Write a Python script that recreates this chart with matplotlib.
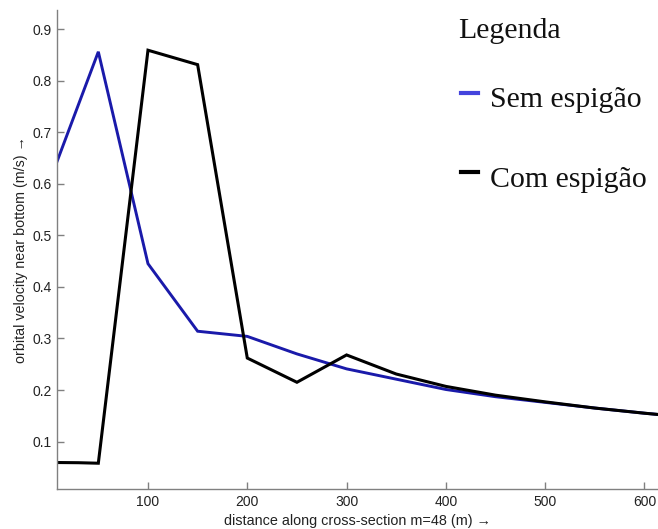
import matplotlib
matplotlib.use("Agg")
import matplotlib.pyplot as plt
from matplotlib.lines import Line2D

# Data (distance in m, orbital velocity in m/s)
x_sem = [0, 50, 100, 150, 200, 250, 300, 350, 400, 450, 500, 550, 600, 650]
v_sem = [0.600, 0.856, 0.445, 0.314, 0.304, 0.270, 0.241, 0.221, 0.201, 0.187, 0.176, 0.165, 0.155, 0.146]

x_com = [0, 30, 50, 100, 150, 200, 250, 300, 350, 400, 450, 500, 550, 600, 650]
v_com = [0.0595, 0.059, 0.058, 0.859, 0.831, 0.262, 0.215, 0.268, 0.231, 0.207, 0.190, 0.177, 0.165, 0.155, 0.146]

x_ticks = [100, 200, 300, 400, 500, 600]
y_ticks = [0.1, 0.2, 0.3, 0.4, 0.5, 0.6, 0.7, 0.8, 0.9]
y_tick_labels = ["0.1", "0.2", "0.3", "0.4", "0.5", "0.6", "0.7", "0.8", "0.9"]

legend_title = "Legenda"
series_names = ["Sem espigão", "Com espigão"]
blue = "#1a1aaa"
black = "#000000"

fig = plt.figure(figsize=(6.58, 5.29), dpi=100)
ax = fig.add_axes([0.0871, 0.0756, 0.9129, 0.9055])

ax.plot(x_sem, v_sem, color=blue, lw=2.1, solid_joinstyle="miter")
ax.plot(x_com, v_com, color=black, lw=2.2, solid_joinstyle="miter")

ax.set_xlim(8.7, 613.6)
ax.set_ylim(0.008, 0.937)
ax.set_xticks(x_ticks)
ax.set_yticks(y_ticks)
ax.set_yticklabels(y_tick_labels)

for s in ["top", "right"]:
    ax.spines[s].set_visible(False)
for s in ["left", "bottom"]:
    ax.spines[s].set_color("#808080")
    ax.spines[s].set_linewidth(1.0)

ax.tick_params(direction="in", length=5, width=1.0, color="#808080",
               labelcolor="#222222", labelsize=10, pad=4)
for lab in ax.get_xticklabels() + ax.get_yticklabels():
    lab.set_family("Liberation Sans")

ax.set_xlabel("distance along cross-section m=48 (m) \u2192", fontsize=10.4,
              family=["Liberation Sans", "DejaVu Sans"], color="#222222", labelpad=4)
ax.set_ylabel("orbital velocity near bottom (m/s) \u2192", fontsize=10.3,
              family=["Liberation Sans", "DejaVu Sans"], color="#222222", labelpad=3)

# Custom legend as figure text
W, H = 658, 529
def fx(px):
    return px / W
def fy(py):
    return 1 - py / H

fig.text(fx(458), fy(38.3), legend_title, family="Liberation Serif", fontsize=21.5,
         color="#111111", ha="left", va="baseline")
for name, col, ybase, ymark in [(series_names[0], "#4444dd", 106.7, 93),
                                (series_names[1], black, 186.7, 172)]:
    fig.text(fx(490), fy(ybase), name, family="Liberation Serif", fontsize=21.5,
             color="#111111", ha="left", va="baseline")
    fig.add_artist(Line2D([fx(461), fx(478)], [fy(ymark), fy(ymark)],
                          color=col, lw=3.0, transform=fig.transFigure))

fig.savefig("out.png", dpi=100)
